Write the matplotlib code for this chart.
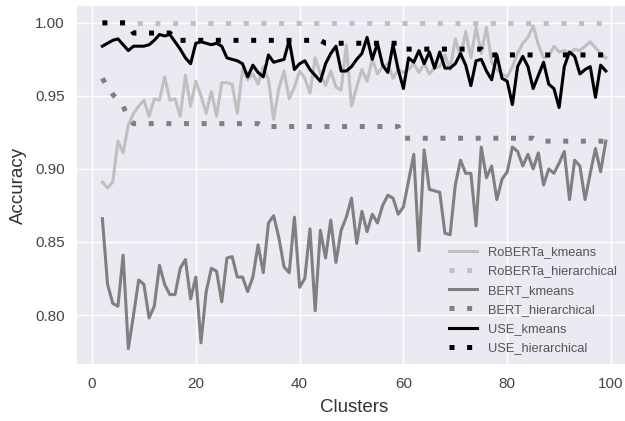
import matplotlib
matplotlib.use("Agg")
import matplotlib.pyplot as plt
import numpy as np

clusters = list(range(2, 100))

roberta_kmeans = [
    0.891, 0.887, 0.891, 0.919, 0.911, 0.930, 0.938, 0.943, 0.947, 0.936,  # 2-11
    0.948, 0.947, 0.963, 0.947, 0.948, 0.936, 0.964, 0.943, 0.960, 0.950,  # 12-21
    0.938, 0.953, 0.936, 0.959, 0.959, 0.958, 0.938, 0.968, 0.961, 0.965,  # 22-31
    0.958, 0.970, 0.961, 0.934, 0.955, 0.967, 0.948, 0.956, 0.967, 0.962,  # 32-41
    0.952, 0.976, 0.965, 0.957, 0.967, 0.956, 0.954, 0.985, 0.943, 0.956,  # 42-51
    0.968, 0.960, 0.975, 0.965, 0.970, 0.972, 0.962, 0.968, 0.966, 0.968,  # 52-61
    0.972, 0.966, 0.972, 0.965, 0.969, 0.970, 0.978, 0.968, 0.989, 0.976,  # 62-71
    0.994, 0.976, 0.997, 0.979, 0.997, 0.973, 0.968, 0.965, 0.963, 0.970,  # 72-81
    0.979, 0.986, 0.990, 0.998, 0.985, 0.976, 0.977, 0.984, 0.980, 0.981,  # 82-91
    0.979, 0.982, 0.981, 0.984, 0.987, 0.983, 0.979, 0.976,                # 92-99
]

roberta_hier = [1.000] * 98

bert_kmeans = [
    0.866, 0.821, 0.808, 0.806, 0.841, 0.777, 0.800, 0.824, 0.821, 0.798,  # 2-11
    0.806, 0.834, 0.821, 0.814, 0.814, 0.832, 0.838, 0.811, 0.826, 0.781,  # 12-21
    0.816, 0.832, 0.830, 0.809, 0.839, 0.840, 0.826, 0.826, 0.816, 0.826,  # 22-31
    0.848, 0.829, 0.863, 0.868, 0.853, 0.833, 0.829, 0.867, 0.819, 0.825,  # 32-41
    0.859, 0.803, 0.858, 0.839, 0.865, 0.836, 0.858, 0.867, 0.880, 0.849,  # 42-51
    0.871, 0.857, 0.869, 0.863, 0.875, 0.882, 0.880, 0.869, 0.874, 0.892,  # 52-61
    0.910, 0.844, 0.913, 0.886, 0.885, 0.884, 0.856, 0.855, 0.889, 0.906,  # 62-71
    0.897, 0.897, 0.861, 0.915, 0.894, 0.902, 0.879, 0.893, 0.898, 0.915,  # 72-81
    0.912, 0.902, 0.910, 0.900, 0.911, 0.889, 0.900, 0.897, 0.904, 0.912,  # 82-91
    0.879, 0.906, 0.902, 0.879, 0.897, 0.914, 0.898, 0.919,                # 92-99
]

bert_hier = (
    [0.962, 0.956, 0.951, 0.947, 0.943, 0.935]   # 2-7
    + [0.931] * 25                               # 8-32
    + [0.929] * 27                               # 33-59
    + [0.921] * 26                               # 60-85
    + [0.919] * 14                               # 86-99
)

use_kmeans = [
    0.984, 0.986, 0.988, 0.989, 0.985, 0.981, 0.984, 0.984, 0.984, 0.985,  # 2-11
    0.988, 0.992, 0.991, 0.992, 0.987, 0.982, 0.976, 0.972, 0.986, 0.987,  # 12-21
    0.986, 0.985, 0.986, 0.984, 0.976, 0.975, 0.974, 0.972, 0.963, 0.971,  # 22-31
    0.966, 0.963, 0.978, 0.973, 0.974, 0.975, 0.988, 0.968, 0.972, 0.974,  # 32-41
    0.968, 0.964, 0.960, 0.972, 0.979, 0.984, 0.967, 0.967, 0.970, 0.975,  # 42-51
    0.979, 0.990, 0.975, 0.986, 0.971, 0.966, 0.985, 0.968, 0.955, 0.976,  # 52-61
    0.973, 0.981, 0.972, 0.980, 0.969, 0.980, 0.969, 0.969, 0.972, 0.979,  # 62-71
    0.971, 0.957, 0.974, 0.975, 0.967, 0.961, 0.978, 0.962, 0.960, 0.944,  # 72-81
    0.970, 0.977, 0.970, 0.955, 0.964, 0.973, 0.958, 0.955, 0.942, 0.970,  # 82-91
    0.980, 0.977, 0.965, 0.968, 0.970, 0.949, 0.971, 0.967,                # 92-99
]

use_hier = (
    [1.000] * 6      # 2-7
    + [0.993] * 8    # 8-15
    + [0.988] * 29   # 16-44
    + [0.986] * 15   # 45-59
    + [0.982] * 16   # 60-75
    + [0.978] * 24   # 76-99
)

labels = ["RoBERTa_kmeans", "RoBERTa_hierarchical", "BERT_kmeans",
          "BERT_hierarchical", "USE_kmeans", "USE_hierarchical"]
colors = ["#c0c0c0", "#c0c0c0", "#808080", "#808080", "#000000", "#000000"]

plt.rcParams["font.family"] = ["Liberation Sans", "DejaVu Sans"]

fig = plt.figure(figsize=(6.25, 4.21), dpi=100)
ax = fig.add_axes([77.2 / 625, (421 - 364) / 421, (631 - 77.2) / 625, 358 / 421])
ax.set_facecolor("#EAEAF2")
for s in ax.spines.values():
    s.set_visible(False)
ax.grid(True, color="white", linewidth=1.0)
ax.set_axisbelow(True)

series = [roberta_kmeans, roberta_hier, bert_kmeans, bert_hier, use_kmeans, use_hier]
dotted = (0, (1, 2.53))
for i, (vals, lab, col) in enumerate(zip(series, labels, colors)):
    if i % 2 == 0:
        ax.plot(clusters, vals, color=col, linewidth=2.2, label=lab)
    else:
        ax.plot(clusters, vals, color=col, linewidth=3.6, linestyle=dotted, label=lab)

ax.set_xlim(-2.85, 103.85)
ax.set_ylim(0.7665, 1.0115)
ax.set_xticks([0, 20, 40, 60, 80, 100])
ax.set_yticks([0.80, 0.85, 0.90, 0.95, 1.00])
ax.set_yticklabels(["0.80", "0.85", "0.90", "0.95", "1.00"])
ax.tick_params(axis="both", length=0, pad=9, labelsize=11, labelcolor="#444444")
ax.set_xlabel("Clusters", fontsize=13.5, color="#333333", labelpad=6)
ax.set_ylabel("Accuracy", fontsize=13.5, color="#333333", labelpad=6)

leg = ax.legend(loc="lower right", frameon=False, fontsize=9.3,
                labelcolor="#555555", handlelength=2.2, labelspacing=0.56,
                bbox_to_anchor=(0.995, -0.006))

fig.savefig("out.png", dpi=100, facecolor="white")
